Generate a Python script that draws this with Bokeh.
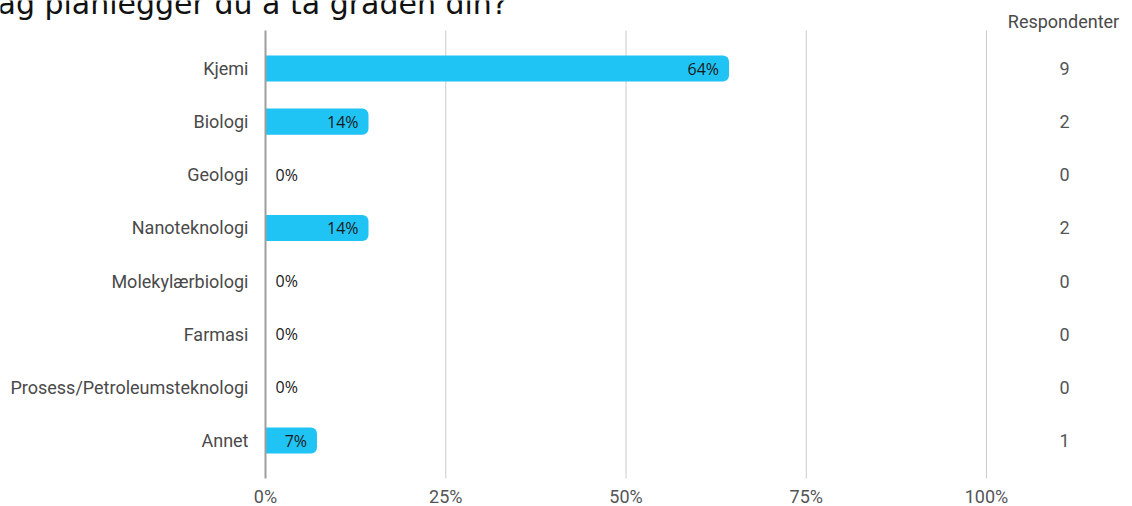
from bokeh.plotting import figure
from bokeh.models import ColumnDataSource, Range1d
from bokeh.core.properties import value
from bokeh.embed import file_html
from bokeh.resources import INLINE

# ---- data ----
categories = ["Kjemi", "Biologi", "Geologi", "Nanoteknologi", "Molekylærbiologi",
              "Farmasi", "Prosess/Petroleumsteknologi", "Annet"]
counts = [9, 2, 0, 2, 0, 0, 0, 1]
total = 14
tick_values = [0, 25, 50, 75, 100]
tick_labels = ["0%", "25%", "50%", "75%", "100%"]
title_text = "ag planlegger du å ta graden din?"
count_header = "Respondenter"

# ---- layout constants (pixels on the page) ----
W, H = 1132, 506
X0_PX, X100_PX = 265, 986          # pixel of 0% and 100%
ROW0_PX, ROW_STEP = 68, 53.143     # centre of first row, row spacing
sx = (X100_PX - X0_PX) / 100.0

def px_x(px):
    return (px - X0_PX) / sx

def px_y(py):
    return (py - ROW0_PX) / ROW_STEP

pct = [100.0 * c / total for c in counts]
idx = list(range(len(categories)))
pct_labels = [f"{round(v):.0f}%" for v in pct]
lab_off = [-10 if v > 0 else 10 for v in pct]
lab_align = ["right" if v > 0 else "left" for v in pct]

src = ColumnDataSource(dict(idx=idx, cat=categories, pct=pct, cnt=[str(c) for c in counts],
                            lab=pct_labels, off=lab_off, align=lab_align))

p = figure(width=W, height=H, output_backend="svg", toolbar_location=None,
           x_range=Range1d(px_x(0), px_x(W)), y_range=Range1d(px_y(H), px_y(0)),
           min_border=0, outline_line_color=None)
p.axis.visible = False
p.grid.visible = False

line_top, line_bot = px_y(30), px_y(478)

# grid lines
p.segment(x0=tick_values[1:], x1=tick_values[1:], y0=line_top, y1=line_bot,
          line_color="#cccccc", line_width=1)

# bars
p.hbar(y="idx", left=0, right="pct", height=0.49, source=src,
       fill_color="#20c4f4", line_color=None, border_radius=(0, 6, 6, 0))

# axis line
p.segment(x0=[0], x1=[0], y0=line_top, y1=line_bot, line_color="#9e9e9e", line_width=2)

# value labels
p.text(x="pct", y="idx", text="lab", x_offset="off", text_align="align", source=src,
       text_baseline="middle", text_font=value("Open Sans"), text_font_size="16px",
       text_color="#1a1a1a")

# category labels
p.text(x=px_x(248), y="idx", text="cat", source=src, text_align="right",
       text_baseline="middle", text_font=value("Roboto"), text_font_size="18px",
       text_color="#4a4a4a")

# counts column
p.text(x=px_x(1064), y="idx", text="cnt", source=src, text_align="center",
       text_baseline="middle", text_font=value("Roboto"), text_font_size="18px",
       text_color="#555555")
p.text(x=[px_x(1063)], y=[px_y(21)], text=[count_header], text_align="center",
       text_baseline="middle", text_font=value("Roboto"), text_font_size="18px",
       text_color="#4a4a4a")

# x tick labels
p.text(x=tick_values, y=px_y(496), text=tick_labels, text_align="center",
       text_baseline="middle", text_font=value("Roboto"), text_font_size="18px",
       text_color="#555555")

# cut-off title
p.text(x=[px_x(-3)], y=[px_y(3)], text=[title_text], text_align="left",
       text_baseline="alphabetic", text_font=value("DejaVu Sans"), text_font_size="30px",
       text_color="#111111")

open("out.html", "w").write(file_html(p, INLINE))
